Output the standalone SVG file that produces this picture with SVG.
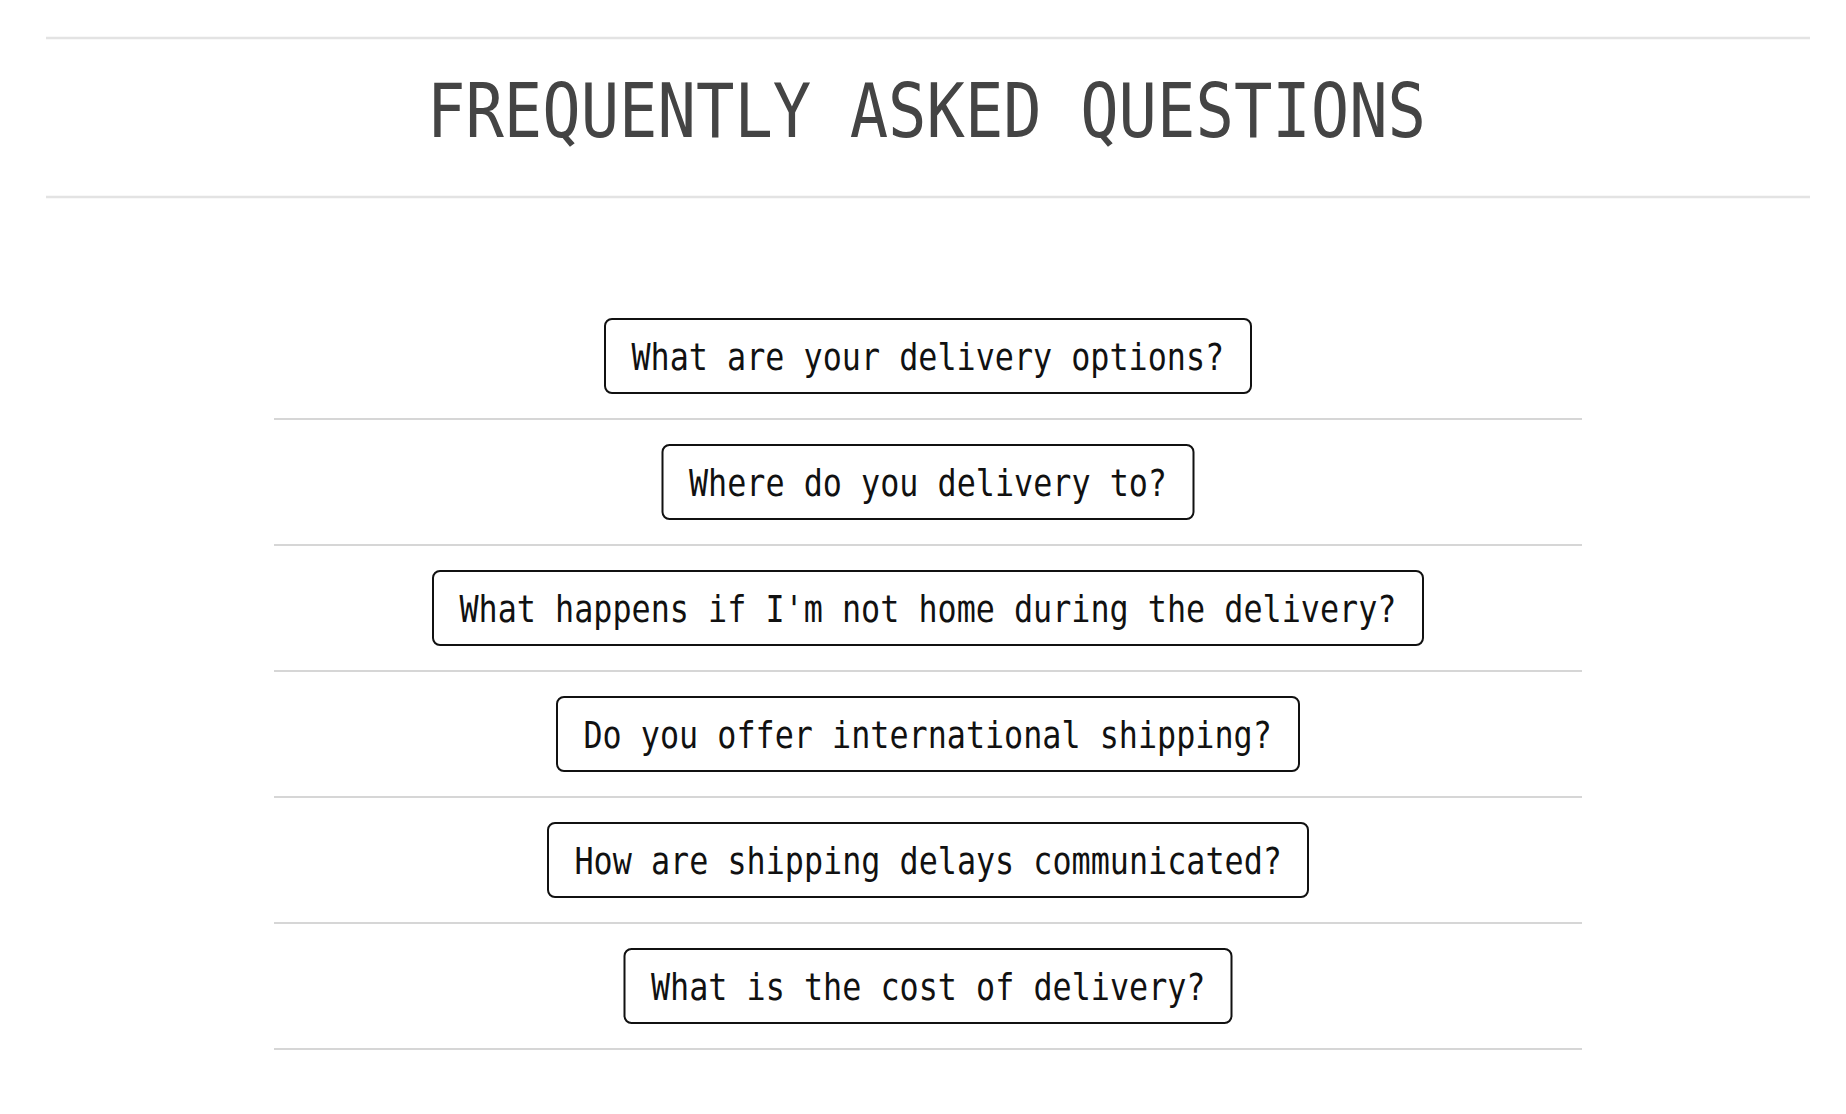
<svg xmlns="http://www.w3.org/2000/svg" width="1846" height="1114" viewBox="0 0 1846 1114">
<style>
.hr-top{stroke:#e3e3e3;stroke-width:2.5;fill:none}
.hr{stroke:#d6d6d6;stroke-width:2;fill:none}
.title{font-family:"DejaVu Sans Mono","Liberation Mono",monospace;font-size:74px;fill:#444444}
.q rect{fill:#ffffff;stroke:#111111;stroke-width:2}
.q text{font-family:"DejaVu Sans Mono","Liberation Mono",monospace;font-size:36.6px;fill:#111111}
</style>
<rect x="0" y="0" width="1846" height="1114" fill="#ffffff"/>
<g id="header">
<line class="hr-top" x1="46" y1="38" x2="1810" y2="38"/>
<text class="title" x="926.5" y="137" text-anchor="middle" textLength="999" lengthAdjust="spacingAndGlyphs">FREQUENTLY ASKED QUESTIONS</text>
<line class="hr-top" x1="46" y1="197" x2="1810" y2="197"/>
</g>
<g id="dividers">
<line class="hr" x1="274" y1="419" x2="1582" y2="419"/>
<line class="hr" x1="274" y1="545" x2="1582" y2="545"/>
<line class="hr" x1="274" y1="671" x2="1582" y2="671"/>
<line class="hr" x1="274" y1="797" x2="1582" y2="797"/>
<line class="hr" x1="274" y1="923" x2="1582" y2="923"/>
<line class="hr" x1="274" y1="1049" x2="1582" y2="1049"/>
</g>
<g id="q1" class="q">
<rect x="605" y="319" width="646" height="74" rx="7"/>
<text x="631.5" y="369.5" textLength="592.7" lengthAdjust="spacingAndGlyphs">What are your delivery options?</text>
</g>
<g id="q2" class="q">
<rect x="662.5" y="445" width="531" height="74" rx="7"/>
<text x="689" y="495.5" textLength="478" lengthAdjust="spacingAndGlyphs">Where do you delivery to?</text>
</g>
<g id="q3" class="q">
<rect x="433" y="571" width="990" height="74" rx="7"/>
<text x="459.5" y="621.5" textLength="936.9" lengthAdjust="spacingAndGlyphs">What happens if I'm not home during the delivery?</text>
</g>
<g id="q4" class="q">
<rect x="557" y="697" width="742" height="74" rx="7"/>
<text x="583.5" y="747.5" textLength="688.3" lengthAdjust="spacingAndGlyphs">Do you offer international shipping?</text>
</g>
<g id="q5" class="q">
<rect x="548" y="823" width="760" height="74" rx="7"/>
<text x="574.5" y="873.5" textLength="707.4" lengthAdjust="spacingAndGlyphs">How are shipping delays communicated?</text>
</g>
<g id="q6" class="q">
<rect x="624.5" y="949" width="607" height="74" rx="7"/>
<text x="651" y="999.5" textLength="554.5" lengthAdjust="spacingAndGlyphs">What is the cost of delivery?</text>
</g>
</svg>
